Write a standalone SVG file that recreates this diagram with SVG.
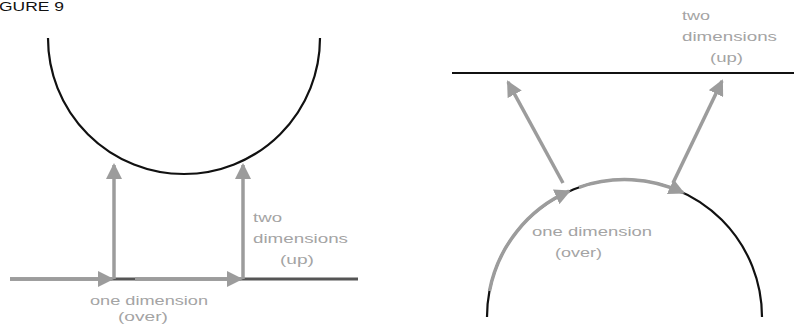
<svg xmlns="http://www.w3.org/2000/svg" width="794" height="324" viewBox="0 0 794 324">
<defs>
<style>
.base{fill:none;stroke:#111;stroke-width:2.2}
.base2{fill:none;stroke:#555;stroke-width:3}
.arr{fill:none;stroke:#9c9c9c;stroke-width:3.5;marker-end:url(#ah)}
.lbl{font-family:"Liberation Sans",Arial,sans-serif;font-size:13.5px;fill:#a4a4a4}
.title{font-family:"Liberation Sans",Arial,sans-serif;font-size:13px;fill:#111}
</style>
<marker id="ah" markerUnits="userSpaceOnUse" markerWidth="16" markerHeight="16" viewBox="0 0 16 16" refX="14" refY="8" orient="auto">
<path d="M0,0 L16,8 L0,16 Z" fill="#9c9c9c"/>
</marker>
</defs>
<rect width="794" height="324" fill="#fff"/>
<text class="title" x="-1" y="11" textLength="65" lengthAdjust="spacingAndGlyphs">GURE 9</text>

<g id="left-circle"><path class="base" d="M48,38 A136,136 0 0 0 320,38"/></g>
<g id="left-surface"><line class="base2" x1="10" y1="279" x2="358" y2="279"/></g>
<g id="right-line"><line class="base" x1="452" y1="73" x2="794" y2="73"/></g>
<g id="right-circle"><path class="base" d="M487,317 A137.5,137.5 0 0 1 762,317"/></g>

<g id="connectors">
<line class="arr" x1="10" y1="279" x2="112" y2="279"/>
<line class="arr" x1="135" y1="279" x2="241" y2="279"/>
<line class="arr" x1="114" y1="279" x2="114" y2="165"/>
<line class="arr" x1="243" y1="279" x2="243" y2="165"/>
<path class="arr" d="M489.5,291 A137.5,137.5 0 0 1 569,191.2"/>
<path class="arr" d="M579,187.3 A137.5,137.5 0 0 1 683,192.6"/>
<line class="arr" x1="563" y1="183" x2="508" y2="82"/>
<line class="arr" x1="673" y1="183" x2="722" y2="81"/>
</g>

<g id="left-labels">
<text class="lbl" x="253" y="222" textLength="29" lengthAdjust="spacingAndGlyphs">two</text>
<text class="lbl" x="253" y="243" textLength="95" lengthAdjust="spacingAndGlyphs">dimensions</text>
<text class="lbl" x="280" y="264" textLength="34" lengthAdjust="spacingAndGlyphs">(up)</text>
<text class="lbl" x="90" y="305" textLength="118" lengthAdjust="spacingAndGlyphs">one dimension</text>
<text class="lbl" x="118" y="321" textLength="50" lengthAdjust="spacingAndGlyphs">(over)</text>
</g>
<g id="right-labels">
<text class="lbl" x="682" y="20" textLength="28" lengthAdjust="spacingAndGlyphs">two</text>
<text class="lbl" x="682" y="41" textLength="95" lengthAdjust="spacingAndGlyphs">dimensions</text>
<text class="lbl" x="710" y="62" textLength="33" lengthAdjust="spacingAndGlyphs">(up)</text>
<text class="lbl" x="532" y="236" textLength="120" lengthAdjust="spacingAndGlyphs">one dimension</text>
<text class="lbl" x="555" y="257" textLength="47" lengthAdjust="spacingAndGlyphs">(over)</text>
</g>
</svg>
